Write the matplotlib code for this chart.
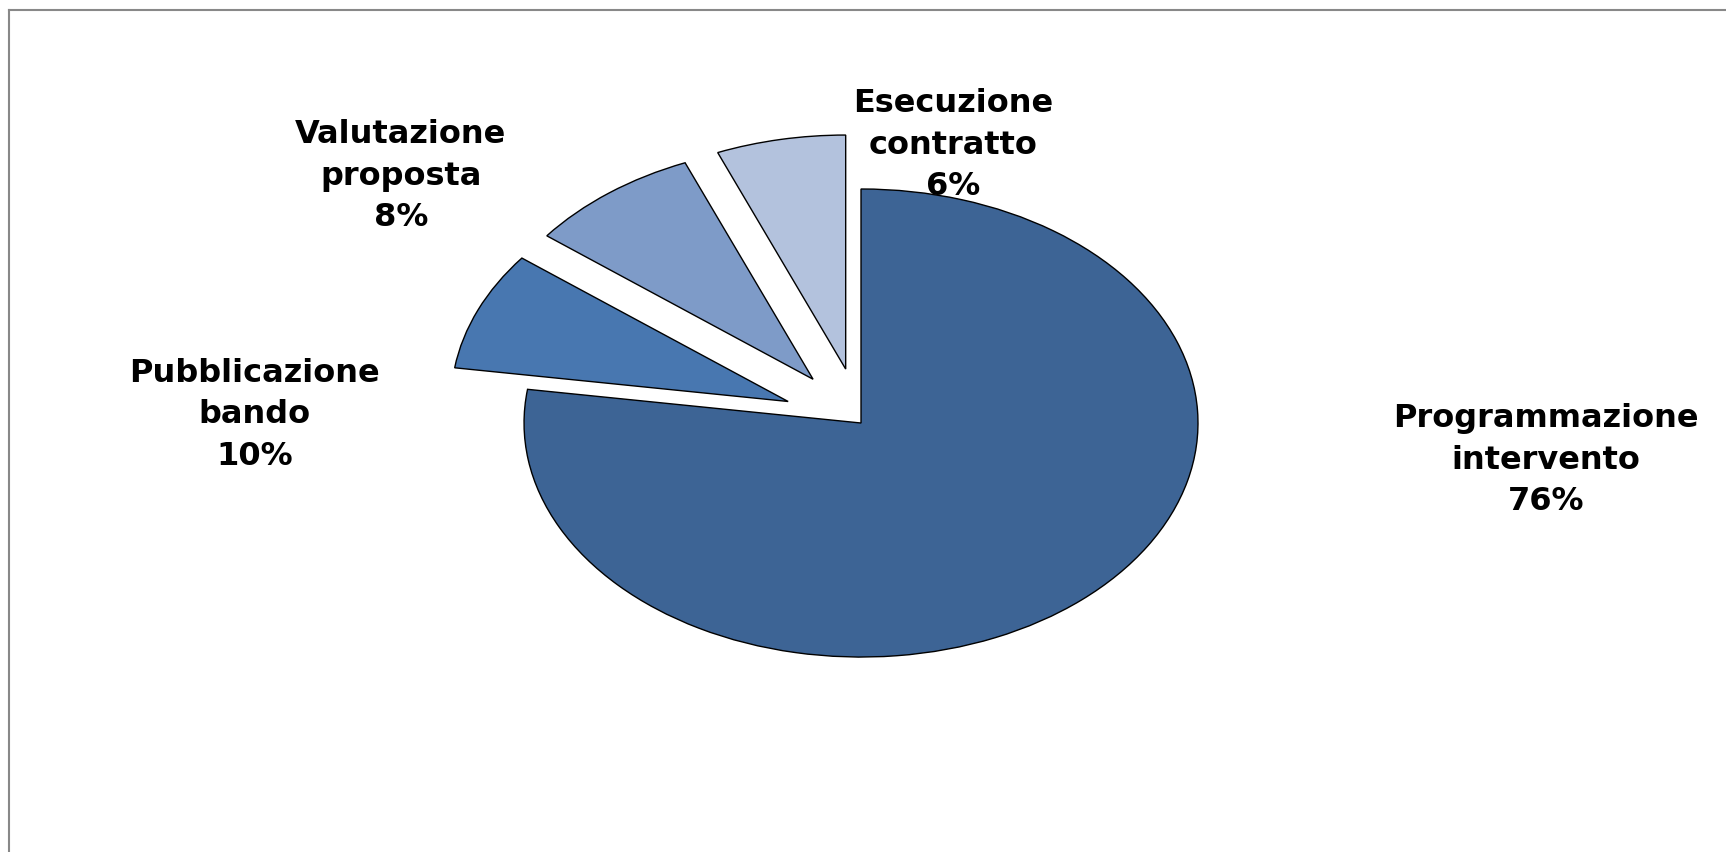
import numpy as np
import matplotlib.pyplot as plt
from matplotlib.lines import Line2D

categories = ['Programmazione\nintervento', 'Pubblicazione\nbando', 'Valutazione\nproposta', 'Esecuzione\ncontratto']
# wedge sizes as drawn in the picture (angles measured off the slices)
values = [77.3, 8.2, 8.3, 6.2]
# percentages as printed on the labels
pct_labels = ['76%', '10%', '8%', '6%']
colors = ['#3d6495', '#4877b0', '#7e9bc8', '#b3c2dd']
explode = [0, 0.235, 0.235, 0.235]

# label anchor points (figure fraction)
label_pos = [(0.8957, 0.460), (0.1477, 0.513), (0.2323, 0.7934), (0.5521, 0.8298)]

fig = plt.figure(figsize=(17.26, 8.52), dpi=100)
ax = fig.add_axes([0.2060, 0.0915, 0.5857, 0.824])

wedges, _ = ax.pie(values, colors=colors, explode=explode, startangle=90, counterclock=False,
                   wedgeprops=dict(edgecolor='black', linewidth=1.0))
ax.set_aspect('auto')
ax.set_xlim(-1.5, 1.5)
ax.set_ylim(-1.5, 1.5)
ax.axis('off')

for cat, pct, (x, y) in zip(categories, pct_labels, label_pos):
    fig.text(x, y, f'{cat}\n{pct}', ha='center', va='center', fontsize=23,
             fontweight='bold', family='DejaVu Sans', linespacing=1.42, zorder=10)

# chart area border (top and left only visible)
fig.add_artist(Line2D([9/1726, 1], [1 - 10/852, 1 - 10/852], color='#888888', lw=1.5))
fig.add_artist(Line2D([9/1726, 9/1726], [0, 1 - 10/852], color='#888888', lw=1.5))

fig.savefig('out.png', dpi=100, facecolor='white')
